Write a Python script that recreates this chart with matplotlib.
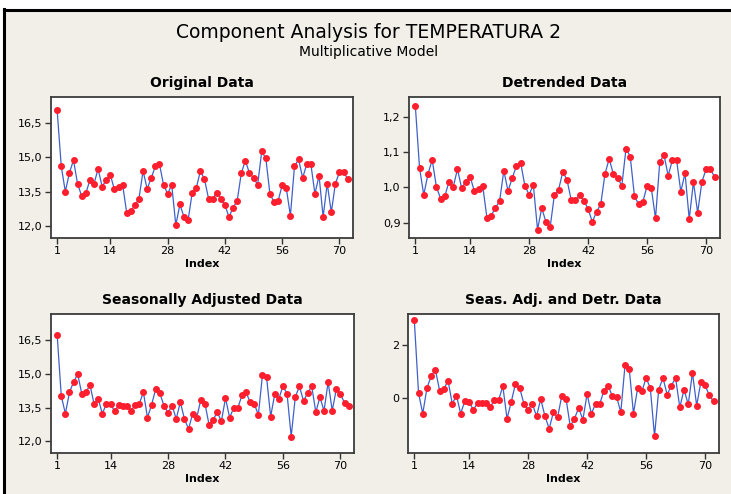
import matplotlib
matplotlib.use("Agg")
import matplotlib.pyplot as plt
from matplotlib.patches import Rectangle
from matplotlib.lines import Line2D

# ---- data ----
index = list(range(1, 73))

original = [17.05, 14.61, 13.50, 14.32, 14.87, 13.83, 13.31, 13.42, 14.00, 13.83,
            14.49, 13.72, 14.00, 14.22, 13.60, 13.69, 13.80, 12.58, 12.67, 12.90,
            13.20, 14.40, 13.62, 14.10, 14.60, 14.70, 13.80, 13.40, 13.80, 12.04,
            12.94, 12.40, 12.25, 13.45, 13.65, 14.40, 14.04, 13.20, 13.20, 13.45,
            13.20, 12.90, 12.40, 12.80, 13.10, 14.30, 14.85, 14.30, 14.10, 13.80,
            15.25, 14.95, 13.40, 13.05, 13.10, 13.78, 13.65, 12.45, 14.60, 14.90,
            14.10, 14.70, 14.70, 13.40, 14.20, 12.40, 13.85, 12.60, 13.85, 14.35,
            14.35, 14.05]

detrended = [1.233, 1.056, 0.979, 1.038, 1.079, 1.002, 0.968, 0.975, 1.017, 1.002,
             1.052, 0.998, 1.017, 1.031, 0.990, 0.997, 1.004, 0.913, 0.920, 0.942,
             0.961, 1.048, 0.990, 1.027, 1.062, 1.070, 1.005, 0.979, 1.008, 0.880,
             0.941, 0.902, 0.887, 0.979, 0.994, 1.045, 1.021, 0.964, 0.964, 0.978,
             0.962, 0.939, 0.902, 0.931, 0.952, 1.038, 1.082, 1.038, 1.027, 1.005,
             1.111, 1.088, 0.975, 0.952, 0.959, 1.005, 0.998, 0.912, 1.072, 1.093,
             1.034, 1.078, 1.078, 0.988, 1.041, 0.910, 1.016, 0.928, 1.016, 1.052,
             1.052, 1.031]

seas_adj = [16.72, 14.02, 13.23, 14.18, 14.63, 14.98, 14.11, 14.18, 14.50, 13.65,
            13.89, 13.23, 13.67, 13.67, 13.33, 13.62, 13.59, 13.59, 13.37, 13.62,
            13.67, 14.18, 13.06, 13.62, 14.32, 14.14, 13.59, 13.28, 13.58, 13.00,
            13.74, 13.00, 12.55, 13.23, 13.06, 13.85, 13.67, 12.74, 12.96, 13.30,
            12.89, 13.92, 13.06, 13.48, 13.48, 14.04, 14.18, 13.74, 13.67, 13.18,
            14.92, 14.85, 13.10, 14.10, 13.89, 14.46, 14.10, 12.22, 13.96, 14.44,
            13.80, 14.14, 14.44, 13.30, 13.96, 13.36, 14.63, 13.36, 14.32, 14.10,
            13.70, 13.59]

seas_adj_detr = [2.96, 0.19, -0.60, 0.38, 0.83, 1.08, 0.28, 0.34, 0.66, -0.22,
                 0.09, -0.60, -0.10, -0.15, -0.45, -0.19, -0.19, -0.19, -0.34, -0.09,
                 -0.09, 0.45, -0.79, -0.15, 0.54, 0.38, -0.22, -0.45, -0.22, -0.70,
                 -0.04, -0.70, -1.17, -0.55, -0.74, 0.09, -0.03, -1.08, -0.79, -0.38,
                 -0.83, 0.15, -0.60, -0.23, -0.23, 0.28, 0.47, 0.06, 0.03, -0.54,
                 1.25, 1.12, -0.60, 0.38, 0.25, 0.76, 0.38, -1.46, 0.32, 0.76,
                 0.13, 0.47, 0.76, -0.36, 0.32, -0.25, 0.96, -0.29, 0.61, 0.48,
                 0.10, -0.13]

x_ticks = [1, 14, 28, 42, 56, 70]
temp_ticks = [12.0, 13.5, 15.0, 16.5]
temp_labels = ["12,0", "13,5", "15,0", "16,5"]
detr_ticks = [0.9, 1.0, 1.1, 1.2]
detr_labels = ["0,9", "1,0", "1,1", "1,2"]
sadt_ticks = [0, 2]
sadt_labels = ["0", "2"]

titles = ["Original Data", "Detrended Data",
          "Seasonally Adjusted Data", "Seas. Adj. and Detr. Data"]

BG = "#F2EFE9"
LINE = "#4060C8"
MARK = "#FF1E2D"

W, H = 731, 494
fig = plt.figure(figsize=(W / 100, H / 100), dpi=100, facecolor="white")

# window-like frame: beige panel with a black edge on the left and top
fig.patches.append(Rectangle((5 / W, 0), 1 - 5 / W, 1 - 11 / H,
                             transform=fig.transFigure, facecolor=BG,
                             edgecolor="none", zorder=-2))
fig.lines.append(Line2D([4 / W, 4 / W], [0, 1 - 9 / H], transform=fig.transFigure,
                        color="black", lw=2.2))
fig.lines.append(Line2D([4 / W, 1], [1 - 10 / H, 1 - 10 / H], transform=fig.transFigure,
                        color="black", lw=2.2))

fig.text(369 / W, 1 - 32 / H, "Component Analysis for TEMPERATURA 2",
         ha="center", va="center", fontsize=13.5)
fig.text(369 / W, 1 - 52 / H, "Multiplicative Model",
         ha="center", va="center", fontsize=10)


def px_axes(l, t, r, b):
    return fig.add_axes([l / W, 1 - b / H, (r - l) / W, (b - t) / H])


boxes = [(51, 97, 353, 238), (409, 97, 720, 238),
         (51, 314, 354, 453), (408, 314, 719, 453)]
series = [original, detrended, seas_adj, seas_adj_detr]
yticks = [(temp_ticks, temp_labels), (detr_ticks, detr_labels),
          (temp_ticks, temp_labels), (sadt_ticks, sadt_labels)]
ylims = [(11.48, 17.62), (0.856, 1.258), (11.49, 17.64), (-2.1, 3.2)]

for box, ys, (tk, tl), yl, title in zip(boxes, series, yticks, ylims, titles):
    ax = px_axes(*box)
    ax.set_facecolor("white")
    ax.plot(index, ys, color=LINE, lw=0.9, zorder=2)
    ax.plot(index, ys, "o", color=MARK, ms=4.0, mec=MARK, zorder=3)
    ax.set_xlim(-0.5, 73.3)
    ax.set_ylim(*yl)
    ax.set_xticks(x_ticks)
    ax.set_yticks(tk)
    ax.set_yticklabels(tl)
    ax.tick_params(direction="out", length=4, width=1, labelsize=8, color="#333333",
                   pad=2)
    for s in ax.spines.values():
        s.set_color("#3c3c3c")
        s.set_linewidth(1.3)
    ax.set_title(title, fontsize=10, fontweight="bold", pad=7)
    ax.set_xlabel("Index", fontsize=8, fontweight="bold", labelpad=2)

fig.savefig("out.png", dpi=100, facecolor=fig.get_facecolor())
